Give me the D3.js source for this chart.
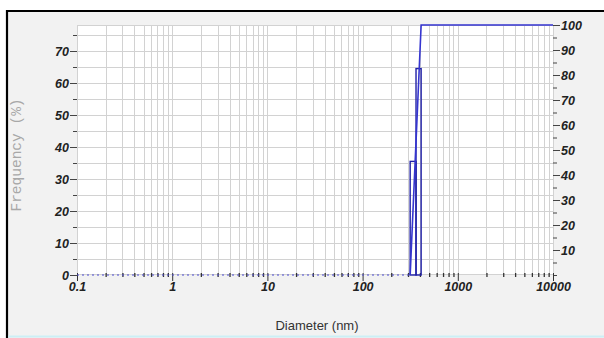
<!DOCTYPE html>
<html><head><meta charset="utf-8">
<script src="https://cdn.jsdelivr.net/npm/d3@7"></script>
<style>html,body{margin:0;padding:0;background:#fff;}svg{display:block;}</style>
</head><body>
<svg id="c" width="604" height="338"></svg>
<script>
// ---- data ----
const binEdges = [316, 364, 412];          // nm
const frequency = [35.5, 64.5];            // % per bin
const cumSizes = [0.1, 316, 412, 10000];   // nm
const cumValues = [0, 0, 100, 100];        // cumulative %
const xTickLabels = ["0.1", "1", "10", "100", "1000", "10000"];
const leftTicks = [0, 10, 20, 30, 40, 50, 60, 70];
const rightTicks = [10, 20, 30, 40, 50, 60, 70, 80, 90, 100];

const svg = d3.select("#c");
const L = 77, R = 553, T = 26, B = 275;

// background frame
svg.append("rect").attr("x", 6).attr("y", 11).attr("width", 598).attr("height", 327).attr("fill", "#f2f2f2");
svg.append("line").attr("x1", 6).attr("x2", 604).attr("y1", 11).attr("y2", 11).attr("stroke", "#000").attr("stroke-width", 2.2);
svg.append("line").attr("x1", 7).attr("x2", 7).attr("y1", 10).attr("y2", 338).attr("stroke", "#000").attr("stroke-width", 2.2);
svg.append("line").attr("x1", 8).attr("x2", 604).attr("y1", 336.5).attr("y2", 336.5).attr("stroke", "#cdeff5").attr("stroke-width", 2);

const x = d3.scaleLog().domain([0.1, 10000]).range([L, R]);
const yL = d3.scaleLinear().domain([0, (B - T) / 3.2]).range([B, T]);
const yR = d3.scaleLinear().domain([0, 100]).range([B, 25]);

// plot area
svg.append("rect").attr("x", L).attr("y", T - 1).attr("width", R - L).attr("height", B - T + 1).attr("fill", "#fff");

const g = svg.append("g");
// vertical grid
const xGrid = x.ticks().filter(d => d > 0.1 && d < 10000);
g.selectAll(".vg").data(xGrid).join("line")
  .attr("x1", d => Math.round(x(d)) + 0.5).attr("x2", d => Math.round(x(d)) + 0.5)
  .attr("y1", T - 1).attr("y2", B).attr("stroke", "#d2d2d2").attr("stroke-width", 1);
// horizontal grid every 5
const yGrid = d3.range(5, 80, 5);
g.selectAll(".hg").data(yGrid).join("line")
  .attr("x1", L).attr("x2", R)
  .attr("y1", d => Math.round(yL(d)) + 0.5).attr("y2", d => Math.round(yL(d)) + 0.5)
  .attr("stroke", "#d2d2d2").attr("stroke-width", 1);
// plot border
svg.append("rect").attr("x", L + 0.5).attr("y", T - 0.5).attr("width", R - L).attr("height", B - T)
  .attr("fill", "none").attr("stroke", "#d2d2d2");

const FONT = "Liberation Sans, Arial, sans-serif";
function styleLabels(sel) {
  sel.selectAll("text").attr("font-family", FONT).attr("font-size", "12.5px")
    .attr("font-weight", "bold").attr("font-style", "italic").attr("fill", "#222");
}

// ---- left axis ----
const axL = d3.axisLeft(yL).tickValues(leftTicks).tickSize(7).tickPadding(1).tickFormat(d3.format("d"));
const gL = svg.append("g").attr("transform", `translate(${L},0)`).call(axL);
gL.select(".domain").remove();
gL.selectAll("line").attr("stroke", "#444");
styleLabels(gL);
const axLm = d3.axisLeft(yL).tickValues(d3.range(5, 80, 10)).tickSize(4).tickFormat("");
const gLm = svg.append("g").attr("transform", `translate(${L},0)`).call(axLm);
gLm.select(".domain").remove();
gLm.selectAll("line").attr("stroke", "#444");

// ---- right axis ----
const axR = d3.axisRight(yR).tickValues(rightTicks).tickSize(7).tickPadding(1).tickFormat(d3.format("d"));
const gR = svg.append("g").attr("transform", `translate(${R},0)`).call(axR);
gR.select(".domain").remove();
gR.selectAll("line").attr("stroke", "#444");
styleLabels(gR);
const axRm = d3.axisRight(yR).tickValues(d3.range(0, 100, 5).filter(d => d % 10 !== 0).concat([0])).tickSize(4).tickFormat("");
const gRm = svg.append("g").attr("transform", `translate(${R},0)`).call(axRm);
gRm.select(".domain").remove();
gRm.selectAll("line").attr("stroke", "#444");

// ---- bottom axis ----
const majors = xTickLabels.map(Number);
const axB = d3.axisBottom(x).tickValues(majors).tickSize(6).tickPadding(1).tickFormat((d, i) => xTickLabels[i]);
const gB = svg.append("g").attr("transform", `translate(0,${B})`).call(axB);
gB.select(".domain").remove();
gB.selectAll("line").attr("stroke", "#333").attr("y1", -2);
styleLabels(gB);
const minors = x.ticks().filter(d => !majors.includes(d));
const axBm = d3.axisBottom(x).tickValues(minors).tickSize(2).tickFormat("");
const gBm = svg.append("g").attr("transform", `translate(0,${B})`).call(axBm);
gBm.select(".domain").remove();
gBm.selectAll("line").attr("stroke", "#333").attr("stroke-width", 1.3).attr("y1", -2);

// ---- histogram bars ----
const bins = frequency.map((f, i) => ({ x0: binEdges[i], x1: binEdges[i + 1], f }));
svg.append("g").selectAll("rect").data(bins).join("rect")
  .attr("x", d => x(d.x0)).attr("width", d => x(d.x1) - x(d.x0))
  .attr("y", d => yL(d.f)).attr("height", d => yL(0) - yL(d.f))
  .attr("fill", "none").attr("stroke", "#1f1fa6").attr("stroke-width", 1.4);

// ---- cumulative ----
const cum = cumSizes.map((s, i) => ({ s, v: cumValues[i] }));
const line = d3.line().x(d => x(d.s)).y(d => yR(d.v));
svg.append("path").datum(cum.slice(0, 2)).attr("d", line).attr("fill", "none")
  .attr("stroke", "#4a4ad0").attr("stroke-width", 1).attr("stroke-dasharray", "2,3");
svg.append("path").datum(cum.slice(1)).attr("d", line).attr("fill", "none")
  .attr("stroke", "#3535d0").attr("stroke-width", 1.6);

// ---- axis titles ----
svg.append("text").attr("x", 317).attr("y", 330).attr("text-anchor", "middle")
  .attr("font-family", FONT).attr("font-size", "13px").attr("fill", "#333")
  .text("Diameter (nm)");
svg.append("text").attr("transform", "translate(21,155) rotate(-90)").attr("text-anchor", "middle")
  .attr("font-family", "Liberation Mono, Courier New, monospace").attr("font-size", "14.5px").attr("fill", "#a8a8a8")
  .text("Frequency (%)");
</script>
</body></html>
